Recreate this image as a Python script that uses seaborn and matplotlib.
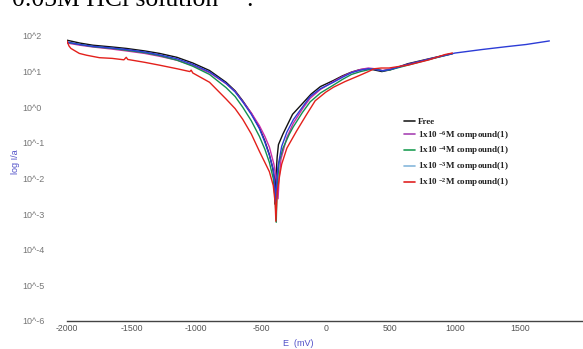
import matplotlib
matplotlib.use('Agg')
import matplotlib.pyplot as plt
from matplotlib.lines import Line2D
from matplotlib.ticker import LogLocator, NullFormatter
import seaborn as sns
import pandas as pd
import numpy as np

# Tafel curves: E in mV, log10 of current
E_FREE = [-2000, -1900, -1800, -1650, -1542, -1400, -1285, -1150, -1027, -898,
          -770, -700, -641, -575, -512, -470, -435, -410, -396, -392, -385,
          -375, -365, -330, -256, -180, -112, -40, 60, 130, 203, 260, 319,
          370, 435, 500, 635, 800, 980]
LOG_FREE = [1.88, 1.80, 1.74, 1.69, 1.65, 1.58, 1.51, 1.40, 1.24, 1.03,
            0.70, 0.46, 0.18, -0.17, -0.58, -0.95, -1.33, -1.70, -2.0, -2.72,
            -2.0, -1.4, -1.05, -0.75, -0.20, 0.10, 0.37, 0.58, 0.75, 0.88,
            0.99, 1.05, 1.08, 1.05, 1.00, 1.05, 1.22, 1.36, 1.51]

E_6 = [-2000, -1900, -1800, -1650, -1542, -1400, -1285, -1150, -1027, -898,
       -770, -700, -641, -575, -512, -470, -435, -400, -380, -368, -360, -345,
       -300, -250, -180, -120, -40, 60, 130, 200, 270, 330, 380, 440, 500,
       635, 800, 980]
LOG_6 = [1.80, 1.74, 1.69, 1.63, 1.58, 1.51, 1.43, 1.32, 1.17, 0.97,
         0.66, 0.44, 0.16, -0.16, -0.52, -0.82, -1.12, -1.6, -2.1, -2.57,
         -2.0, -1.45, -0.85, -0.45, -0.05, 0.25, 0.50, 0.72, 0.86, 0.98,
         1.06, 1.10, 1.08, 1.03, 1.07, 1.20, 1.35, 1.50]

E_4 = [-2000, -1900, -1800, -1650, -1542, -1400, -1285, -1150, -1027, -898,
       -770, -700, -641, -575, -512, -470, -435, -405, -390, -382, -375, -360,
       -330, -280, -250, -180, -120, -40, 60, 130, 200, 270, 330, 380, 440,
       500, 635, 800, 980]
LOG_4 = [1.82, 1.76, 1.70, 1.65, 1.60, 1.53, 1.45, 1.32, 1.15, 0.92,
         0.55, 0.30, 0.00, -0.38, -0.82, -1.18, -1.55, -2.0, -2.6, -3.23,
         -2.2, -1.55, -1.15, -0.75, -0.55, -0.15, 0.15, 0.40, 0.62, 0.78,
         0.92, 1.00, 1.05, 1.08, 1.02, 1.05, 1.18, 1.34, 1.50]

E_3 = [-2000, -1900, -1800, -1650, -1542, -1400, -1285, -1150, -1027, -898,
       -770, -700, -641, -575, -512, -470, -435, -405, -395, -388, -380, -370,
       -340, -300, -250, -180, -120, -40, 60, 130, 200, 270, 330, 380, 440,
       500, 635, 800, 1000, 1212, 1400, 1550, 1730]
LOG_3 = [1.83, 1.76, 1.71, 1.66, 1.62, 1.55, 1.47, 1.36, 1.20, 0.99,
         0.67, 0.43, 0.15, -0.20, -0.60, -0.98, -1.35, -1.75, -2.1, -2.66,
         -2.2, -1.7, -1.1, -0.7, -0.35, 0.0, 0.30, 0.52, 0.70, 0.84,
         0.97, 1.04, 1.08, 1.06, 1.02, 1.06, 1.20, 1.35, 1.52, 1.62,
         1.70, 1.76, 1.86]

E_2 = [-2000, -1985, -1970, -1905, -1850, -1750, -1650, -1560, -1542, -1530,
       -1400, -1285, -1150, -1050, -1040, -1027, -898, -770, -700, -641,
       -575, -512, -470, -435, -405, -390, -385, -375, -355, -340, -300,
       -225, -150, -81, 0, 60, 150, 261, 330, 376, 430, 490, 560, 635, 800,
       925, 980]
LOG_2 = [1.86, 1.72, 1.65, 1.51, 1.46, 1.39, 1.37, 1.33, 1.40, 1.34,
         1.26, 1.18, 1.08, 1.00, 1.04, 0.96, 0.70, 0.23, -0.04, -0.34,
         -0.75, -1.24, -1.55, -1.81, -2.2, -2.7, -3.2, -2.4, -1.9, -1.6,
         -1.15, -0.67, -0.22, 0.18, 0.42, 0.56, 0.72, 0.89, 1.00, 1.08,
         1.10, 1.10, 1.14, 1.18, 1.33, 1.48, 1.52]

LABELS = ['Free',
          r'1x10 $^{-6}$M compound(1)',
          r'1x10 $^{-4}$M compound(1)',
          r'1x10 $^{-3}$M compound(1)',
          r'1x10 $^{-2}$M compound(1)']
COLORS = ['#111111', '#cc2aa8', '#139050', '#2c3cd6', '#e3201b']
LEGEND_COLORS = ['#222222', '#a844b4', '#1f9e55', '#86b8dc', '#e02222']
X_TICKS = [-2000, -1500, -1000, -500, 0, 500, 1000, 1500]
Y_EXPONENTS = [-6, -5, -4, -3, -2, -1, 0, 1, 2]


# 组装长表
def build_frame():
    series = [(E_FREE, LOG_FREE), (E_6, LOG_6), (E_4, LOG_4),
              (E_3, LOG_3), (E_2, LOG_2)]
    frames = []
    for label, (e, log_i) in zip(LABELS, series):
        frames.append(pd.DataFrame({'E': e,
                                    'I': np.power(10.0, log_i),
                                    'series': label}))
    return pd.concat(frames, ignore_index=True)


def main():
    sns.set_style('white')
    plt.rcParams['font.family'] = ['Liberation Sans', 'DejaVu Sans']
    plt.rcParams['mathtext.fontset'] = 'custom'
    plt.rcParams['mathtext.rm'] = 'Liberation Serif:bold'
    plt.rcParams['mathtext.default'] = 'rm'

    fig = plt.figure(figsize=(5.83, 3.49), dpi=100)
    ax = fig.add_axes([67 / 583, 1 - 321 / 349, 516 / 583, 310 / 349])

    df = build_frame()
    sns.lineplot(data=df, x='E', y='I', hue='series', hue_order=LABELS,
                 palette=COLORS, sort=False, estimator=None, lw=1.0,
                 legend=False, ax=ax)

    ax.set_yscale('log')
    ax.set_ylim(1e-6, 10 ** 2.7)
    ax.set_xlim(-2000, 1990)

    # 坐标轴样式
    for side in ['top', 'right', 'left']:
        ax.spines[side].set_visible(False)
    ax.spines['bottom'].set_color('#444444')
    ax.spines['bottom'].set_linewidth(1.0)

    ax.set_xticks(X_TICKS)
    ax.set_xticklabels([str(v) for v in X_TICKS])
    ax.set_yticks([10.0 ** k for k in Y_EXPONENTS])
    ax.set_yticklabels([f'10^{k}' for k in Y_EXPONENTS])
    ax.yaxis.set_minor_locator(LogLocator(base=10, subs=np.arange(2, 10)))
    ax.yaxis.set_minor_formatter(NullFormatter())

    ax.tick_params(axis='x', direction='in', length=2.5, width=0.8,
                   colors='#555555', labelsize=6.3, pad=2)
    ax.tick_params(axis='y', which='major', direction='in', length=2,
                   width=0.9, colors='#777777', labelsize=6.5, pad=32)
    ax.tick_params(axis='y', which='minor', direction='in', length=1.5,
                   width=0.7, colors='#888888')
    for lab in ax.get_yticklabels():
        lab.set_horizontalalignment('left')
    ax.set_xlabel('')
    ax.set_ylabel('')

    fig.text(16 / 583, 1 - 162 / 349, 'log I/a', rotation=90, color='#5050c8',
             fontsize=6.5, ha='center', va='center')
    fig.text(298 / 583, 1 - 344 / 349, 'E  (mV)', color='#5050c8',
             fontsize=6.5, ha='center', va='center')

    # 页面上方被截断的正文
    fig.text(12 / 583, 1 - 5.5 / 349, '0.05M HCl solution', fontsize=18.5,
             family='Liberation Serif', color='black', va='baseline')
    fig.text(246 / 583, 1 - 5.5 / 349, '.', fontsize=18.5,
             family='Liberation Serif', color='black', va='baseline')

    # 图例
    handles = [Line2D([], [], color=c, lw=1.2) for c in LEGEND_COLORS]
    leg = ax.legend(handles, LABELS, loc='upper left',
                    bbox_to_anchor=(399 / 583, 1 - 113 / 349),
                    bbox_transform=fig.transFigure, frameon=False,
                    borderpad=0, handlelength=1.3, handletextpad=0.25,
                    labelspacing=0.3,
                    prop={'family': 'Liberation Serif', 'weight': 'bold',
                          'size': 6.5})
    for text in leg.get_texts():
        text.set_color('#222222')

    fig.savefig('out.png', dpi=100)


if __name__ == '__main__':
    main()
